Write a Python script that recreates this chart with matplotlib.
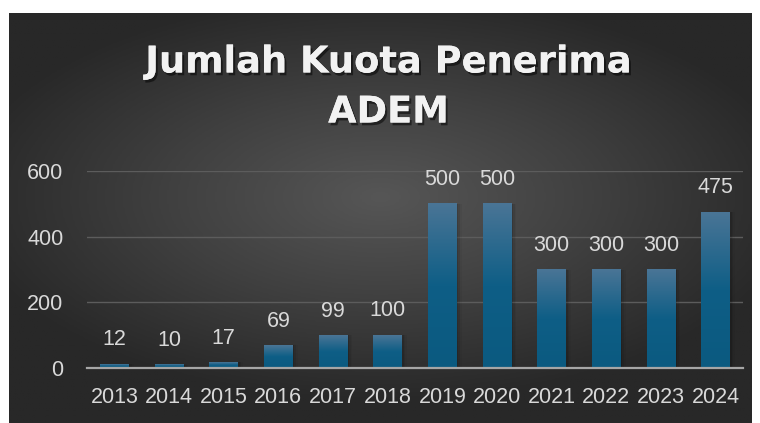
import numpy as np
import matplotlib.pyplot as plt
import matplotlib.patheffects as pe
from matplotlib.colors import LinearSegmentedColormap

# data
years = ['2013', '2014', '2015', '2016', '2017', '2018',
         '2019', '2020', '2021', '2022', '2023', '2024']
quota = [12, 10, 17, 69, 99, 100, 500, 500, 300, 300, 300, 475]
y_ticks = [0, 200, 400, 600]

W, H = 760, 423
fig = plt.figure(figsize=(W / 100, H / 100), dpi=100)
fig.patch.set_facecolor('white')

# radial gradient background of chart area
bg = fig.add_axes([9 / W, 0, (752 - 9) / W, (H - 13) / H])
bg.set_axis_off()
gx, gy = np.meshgrid(np.linspace(-1, 1, 400), np.linspace(-1, 1, 240))
r = np.sqrt((gx / 1.15) ** 2 + ((gy + 0.1) / 1.0) ** 2)
r = np.clip(r, 0, 1)
bg_cmap = LinearSegmentedColormap.from_list('bg', ['#565656', '#404040', '#282828'])
bg.imshow(r, cmap=bg_cmap, aspect='auto', extent=[0, 1, 0, 1], vmin=0, vmax=1)
bg.set_xlim(0, 1)
bg.set_ylim(0, 1)

ax = fig.add_axes([87 / W, 1 - 368 / H, (743 - 87) / W, (368 - 171) / H])
ax.set_facecolor('none')

bar_w = 0.53
bar_cmap = LinearSegmentedColormap.from_list('bar', ['#0b5a80', '#0e5e86', '#4a7596'])
grad = np.linspace(0, 1, 256).reshape(-1, 1)
x = np.arange(len(years))
for i, v in enumerate(quota):
    # soft shadow
    for k, a in enumerate([0.10, 0.07, 0.04]):
        off = 0.03 * (k + 1)
        ax.bar(i + off, v, width=bar_w, color='black', alpha=a, zorder=2, linewidth=0)
    ax.imshow(grad, cmap=bar_cmap, origin='lower', aspect='auto',
              extent=[i - bar_w / 2, i + bar_w / 2, 0, v], zorder=3)
    ax.text(i, v + 600 * 0.07, str(v), ha='center', va='bottom',
            color='#d9d9d9', fontsize=15.5, family='Liberation Sans')
ax.set_xlim(-0.5, len(years) - 0.5)
ax.set_ylim(0, 600)

ax.set_yticks(y_ticks)
ax.set_xticks(x)
ax.set_xticklabels(years)
ax.grid(axis='y', color='#5c5c5c', linewidth=1.0, zorder=1)
ax.set_axisbelow(True)
for s in ['top', 'right', 'left']:
    ax.spines[s].set_visible(False)
ax.spines['bottom'].set_color('#a6a6a6')
ax.spines['bottom'].set_linewidth(1.6)
ax.spines['bottom'].set_zorder(4)
ax.tick_params(axis='both', length=0, colors='#d9d9d9', labelsize=15.5)
ax.tick_params(axis='y', pad=17)
ax.tick_params(axis='x', pad=14)
for lab in ax.get_xticklabels() + ax.get_yticklabels():
    lab.set_family('Liberation Sans')

# title with shadow
title = 'Jumlah Kuota Penerima\nADEM'
fig.text(0.511, 1 - 87 / H, title, ha='center', va='center', color='#f2f2f2',
         fontsize=26.5, fontweight='bold', family='DejaVu Sans', linespacing=1.45,
         path_effects=[pe.withSimplePatchShadow(offset=(1.5, -2), shadow_rgbFace='black', alpha=0.5),
                       pe.Normal()])

fig.savefig('out.png', dpi=100, facecolor=fig.get_facecolor())
